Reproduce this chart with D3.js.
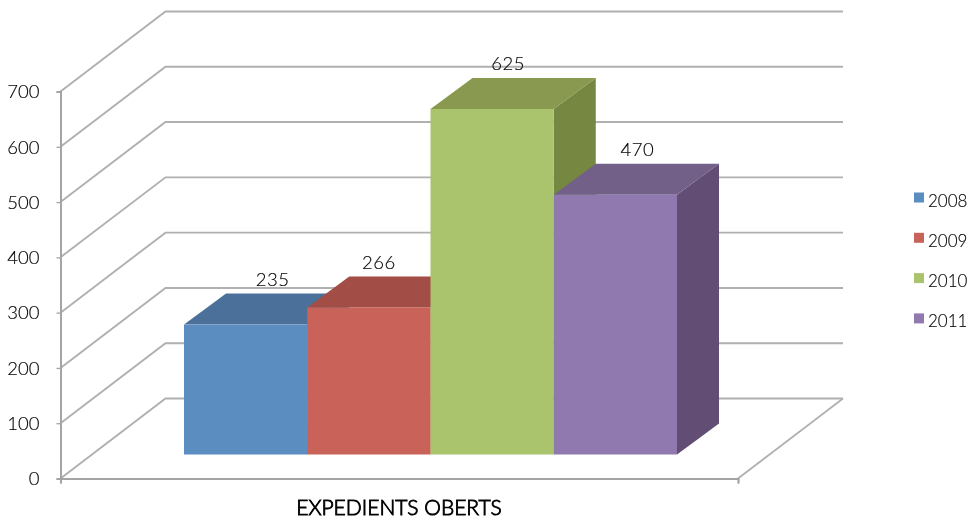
<!DOCTYPE html>
<html>
<head>
<meta charset="utf-8">
<script src="https://cdn.jsdelivr.net/npm/d3@7"></script>
<style>
  html, body { margin: 0; padding: 0; background: #fff; }
  svg { display: block; }
  text { font-family: "Lato", "Open Sans", sans-serif; font-weight: 300; fill: #000; stroke: #000; stroke-width: 0.15; }
</style>
</head>
<body>
<svg id="chart" width="977" height="520"></svg>
<script>
"use strict";
const years = ["2008", "2009", "2010", "2011"];
const values = [235, 266, 625, 470];
const yTicks = [0, 100, 200, 300, 400, 500, 600, 700];
const categoryLabel = "EXPEDIENTS OBERTS";

const frontColors = ["#5b8dc1", "#c9635a", "#aac46d", "#8f79ae"];
const topColors = ["#4b719b", "#a24d44", "#89994f", "#726089"];
const sideColors = ["#4b6f96", "#9c4a42", "#74873f", "#624d75"];

// the labels sit unevenly over the bars in the original
const labelShift = [27, 10, 16, 22];

const wall = { dx: 105, dy: -80 };
const bar = { dx: 42, dy: -31, lift: 24 };
const GRID = "#b0b0b0";

const svg = d3.select("#chart");

// the reference is a soft, upscaled image
svg.append("filter").attr("id", "soft")
  .append("feGaussianBlur").attr("stdDeviation", 0.45);

const root = svg.append("g").attr("filter", "url(#soft)");

const y = d3.scaleLinear().domain([0, 700]).range([478.5, 91.5]);
const floorX = d3.scaleLinear().domain([0, 1]).range([60.5, 738]);
const x = d3.scaleBand().domain(years).range([184, 677]);

// gridlines: front edge of the floor/side wall, then along the back wall
const grid = root.append("g").attr("fill", "none").attr("stroke", GRID).attr("stroke-width", 1.9);
grid.selectAll("path")
  .data(yTicks)
  .join("path")
  .attr("d", d => {
    let p = d3.path();
    p.moveTo(floorX(0), y(d));
    p.lineTo(floorX(0) + wall.dx, y(d) + wall.dy);
    p.lineTo(floorX(1) + wall.dx, y(d) + wall.dy);
    return p.toString();
  });

// right edge of the floor
grid.append("line")
  .attr("x1", floorX(1)).attr("y1", y(0))
  .attr("x2", floorX(1) + wall.dx).attr("y2", y(0) + wall.dy);

// axes
let yAxis = d3.axisLeft(y).tickValues(yTicks).tickSize(4).tickPadding(17).tickFormat(d3.format("d"));
let yGroup = root.append("g").attr("transform", `translate(${floorX(0)},0)`).call(yAxis);

let xAxis = d3.axisBottom(floorX).tickValues([0, 1]).tickSize(5).tickFormat("");
let xGroup = root.append("g").attr("transform", `translate(0,${y(0)})`).call(xAxis);

[yGroup, xGroup].forEach(g => {
  g.selectAll("path").attr("stroke", "#a4a4a4").attr("stroke-width", 2);
  g.selectAll("line").attr("stroke", "#a4a4a4").attr("stroke-width", 1.3);
});
yGroup.selectAll("text")
  .style("font-size", "18.5px")
  .attr("dy", "0.34em");

// bars, left to right so each one covers the side of the one before it
const bars = root.append("g").selectAll("g")
  .data(values)
  .join("g");

const baseY = y(0) - bar.lift;
const barTop = v => baseY - (y(0) - y(v));

bars.append("path")
  .attr("fill", (d, i) => sideColors[i])
  .attr("d", (d, i) => {
    let right = x(years[i]) + x.bandwidth();
    return `M${right},${barTop(d)}L${right + bar.dx},${barTop(d) + bar.dy}L${right + bar.dx},${baseY + bar.dy}L${right},${baseY}Z`;
  });

bars.append("path")
  .attr("fill", (d, i) => topColors[i])
  .attr("d", (d, i) => {
    let left = x(years[i]), right = left + x.bandwidth();
    return `M${left},${barTop(d)}L${left + bar.dx},${barTop(d) + bar.dy}L${right + bar.dx},${barTop(d) + bar.dy}L${right},${barTop(d)}Z`;
  });

bars.append("rect")
  .attr("fill", (d, i) => frontColors[i])
  .attr("x", (d, i) => x(years[i]))
  .attr("y", d => barTop(d))
  .attr("width", x.bandwidth())
  .attr("height", d => baseY - barTop(d));

// value labels
root.append("g").selectAll("text")
  .data(values)
  .join("text")
  .attr("text-anchor", "middle")
  .style("font-size", "18.5px")
  .style("letter-spacing", "0.5px")
  .attr("x", (d, i) => x(years[i]) + x.bandwidth() / 2 + labelShift[i])
  .attr("y", d => barTop(d) - 38.5)
  .text(d => d);

// category label
root.append("text")
  .attr("x", 399)
  .attr("y", 515)
  .attr("text-anchor", "middle")
  .style("font-size", "21px")
  .style("stroke-width", 0.9)
  .text(categoryLabel);

// legend
const legend = root.append("g").selectAll("g")
  .data(years)
  .join("g")
  .attr("transform", (d, i) => `translate(914,${192.5 + i * 40.3})`);

legend.append("rect")
  .attr("width", 10)
  .attr("height", 10)
  .attr("fill", (d, i) => frontColors[i]);

legend.append("text")
  .attr("x", 14)
  .attr("y", 14)
  .style("font-size", "17px")
  .text(d => d);
</script>
</body>
</html>
